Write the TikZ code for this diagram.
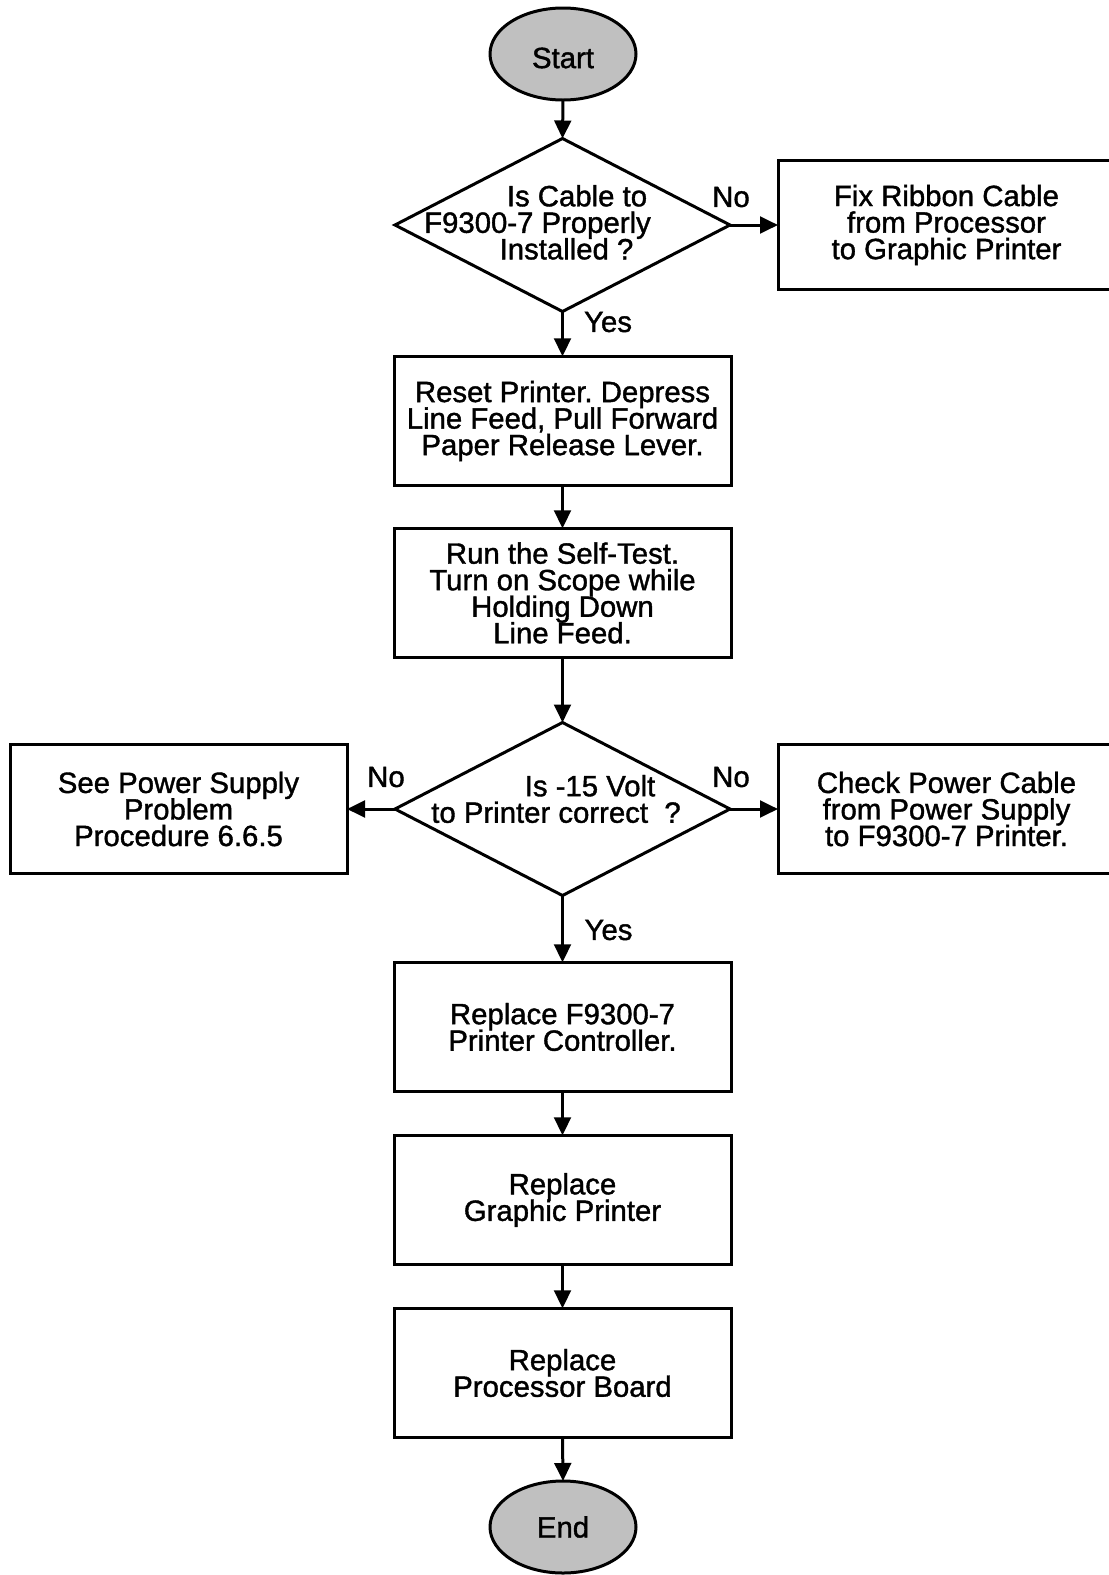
\documentclass[tikz,border=0pt]{standalone}
\usepackage{fontspec}
\setmainfont{Liberation Sans}
\newfontfamily\chartfont{Liberation Sans}[FakeBold=1.3]
\usetikzlibrary{shapes.geometric,arrows.meta}

% one drawing unit
\newlength\pxu
\setlength\pxu{0.75pt}
% a line of text whose centre sits #1 units right of the node centre
\newcommand\offsetline[2]{\makebox[0pt]{\hspace*{#1\pxu}\hspace*{#1\pxu}#2}}
\definecolor{termgray}{RGB}{192,192,192}

\begin{document}
\frenchspacing
\begin{tikzpicture}[x=0.75pt,y=-0.75pt,
  every node/.style={font={\chartfont\fontsize{22}{19.9}\selectfont\lineskiplimit=-100pt\relax}, align=center, outer sep=0pt},
  stepbox/.style={draw, line width=2.25pt, rectangle, minimum width=252.75pt, minimum height=97pt, inner sep=0pt},
  decision/.style={draw, line width=2.25pt, diamond, minimum width=251.25pt, minimum height=129.75pt, inner sep=0pt},
  terminal/.style={draw, line width=2.25pt, ellipse, fill=termgray, minimum width=109.5pt, minimum height=69pt, inner sep=0pt},
  flow/.style={line width=2.25pt, -{Triangle[length=13.5pt, width=12.5pt]}},
  answer/.style={inner sep=0pt}]
\useasboundingbox (0,0) rectangle (1109,1575);

% main column
\node[terminal] (start) at (563,54) {\raisebox{-3pt}[\height][\depth]{Start}};
\node[decision] (cable) at (562.5,225)
  {\raisebox{2pt}[\height][\depth]{\offsetline{14.5}{Is Cable to}}\\
   \raisebox{2pt}[\height][\depth]{\offsetline{-25}{F9300-7 Properly}}\\
   \raisebox{2pt}[\height][\depth]{\offsetline{4}{Installed ?}}};
\node[stepbox] (reset) at (562.5,421) {Reset Printer. Depress\\Line Feed, Pull Forward\\Paper Release Lever.};
\node[stepbox] (selftest) at (562.5,593) {Run the Self-Test.\\Turn on Scope while\\Holding Down\\Line Feed.};
\node[decision] (volt) at (562.5,809)
  {\raisebox{7.5pt}[\height][\depth]{\offsetline{27.5}{Is -15 Volt}}\\ \raisebox{7.5pt}[\height][\depth]{\offsetline{-6.5}{to Printer correct \ ?}}};
\node[stepbox] (controller) at (562.5,1027) {Replace F9300-7\\Printer Controller.};
\node[stepbox] (printer) at (562.5,1200) {Replace\\Graphic Printer};
\node[stepbox] (board) at (562.5,1373) {Replace\\Processor Board};
\node[terminal] (end) at (563,1527) {End};

% side branches
\node[stepbox] (ribbon) at (946.5,225) {Fix Ribbon Cable\\from Processor\\to Graphic Printer};
\node[stepbox] (supply) at (178.5,809) {See Power Supply\\Problem\\Procedure 6.6.5};
\node[stepbox] (powercable) at (946.5,809) {Check Power Cable\\from Power Supply\\to F9300-7 Printer.};

% branch labels
\node[answer] (no1) at (731,197) {No};
\node[answer] (yes1) at (608,322) {Yes};
\node[answer] (no2) at (386,777) {No};
\node[answer] (no3) at (731,777) {No};
\node[answer] (yes2) at (608.5,930) {Yes};

% connectors
\draw[flow] (start.south) -- (cable.north);
\draw[flow] (cable.east) -- (ribbon.west);
\draw[flow] (cable.south) -- (reset.north);
\draw[flow] (reset.south) -- (selftest.north);
\draw[flow] (selftest.south) -- (volt.north);
\draw[flow] (volt.west) -- (supply.east);
\draw[flow] (volt.east) -- (powercable.west);
\draw[flow] (volt.south) -- (controller.north);
\draw[flow] (controller.south) -- (printer.north);
\draw[flow] (printer.south) -- (board.north);
\draw[flow] (board.south) -- (end.north);
\end{tikzpicture}
\end{document}
